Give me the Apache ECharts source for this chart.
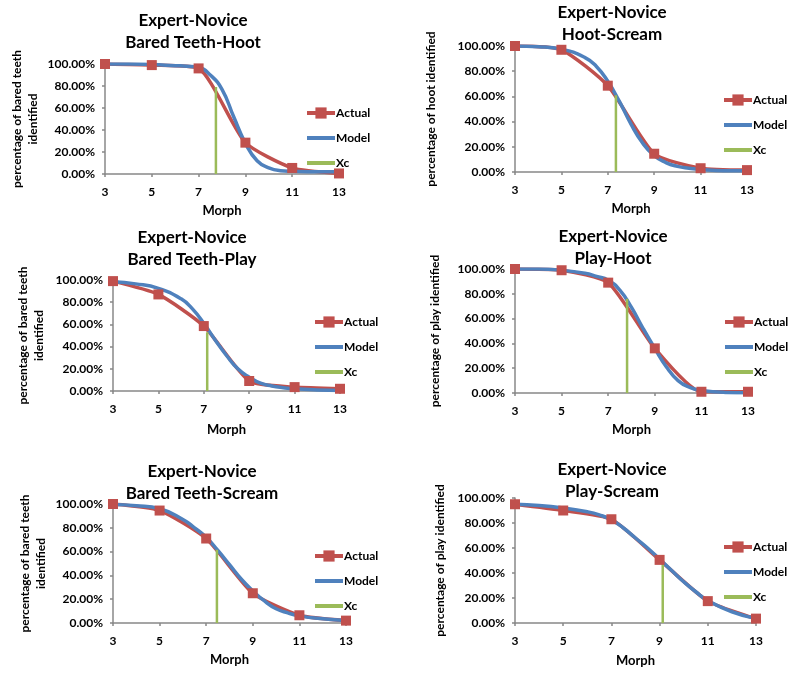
<!DOCTYPE html>
<html>
<head>
<meta charset="utf-8">
<script src="https://cdn.jsdelivr.net/npm/echarts@6/dist/echarts.min.js"></script>
<style>
html, body { margin: 0; padding: 0; background: #fff; }
#main { width: 800px; height: 674px; }
</style>
</head>
<body>
<div id="main"></div>
<script>
// x of the Actual points (morph level)
var morph = [3, 5, 7, 9, 11, 13];
// x of the points
var modelX = [3, 4, 5, 6, 6.5, 7, 7.5, 8, 8.5, 9, 9.5, 10, 10.5, 11, 12, 13];
var xTicks = [3, 5, 7, 9, 11, 13];

var panelTitles = [
	'Expert-Novice\nBared Teeth-Hoot',
	'Expert-Novice\nHoot-Scream',
	'Expert-Novice\nBared Teeth-Play',
	'Expert-Novice\nPlay-Hoot',
	'Expert-Novice\nBared Teeth-Scream',
	'Expert-Novice\nPlay-Scream'
];
var yNames = [
	'percentage of bared teeth\nidentified',
	'percentage of hoot identified',
	'percentage of bared teeth\nidentified',
	'percentage of play identified',
	'percentage of bared teeth\nidentified',
	'percentage of play identified'
];

// Actual (%)
var actualBTH = [100, 99, 96, 28.5, 5.5, 0.5];
var actualHS  = [100, 97, 68.5, 14.5, 3, 1.5];
var actualBTP = [99, 87, 58.5, 9, 3.5, 2];
var actualPH  = [100, 99, 89, 36, 1, 1];
var actualBTS = [100, 94.5, 71, 25, 6.5, 2];
var actualPS  = [95, 90, 83, 50.5, 17.5, 3.5];

// Model (%), at modelX
var modelBTH = [100, 100, 99.5, 98.5, 98, 97, 90, 77, 52, 28, 12, 5.5, 3, 2.5, 2, 2];
var modelHS  = [100, 99.5, 97.5, 91, 84, 72, 56, 38, 23, 13, 7.5, 4.5, 3, 2, 1, 1];
var modelBTP = [98.5, 96.5, 92.5, 83, 74, 61, 46, 32, 20, 12.5, 7, 4.5, 3, 2, 1, 0.5];
var modelPH  = [100, 100, 99, 96.5, 94, 91, 83, 69, 52, 36, 21, 10, 4.5, 2, 0.5, 0.3];
var modelBTS = [99.5, 98.5, 96, 87, 80, 72, 61, 49, 37, 27, 18.5, 12, 8.5, 6, 3.5, 2];
var modelPS  = [95, 94, 92, 89, 86.5, 82.5, 76, 68, 60, 51, 42, 33, 25, 18, 9, 3.5];

// Xc line: position and height (%)
var xcPos = [7.74, 7.35, 7.15, 7.81, 7.46, 9.13];
var xcTop = [79, 61, 53, 76, 61.5, 51.5];

var actualAll = [actualBTH, actualHS, actualBTP, actualPH, actualBTS, actualPS];
var modelAll = [modelBTH, modelHS, modelBTP, modelPH, modelBTS, modelPS];

// layout of each panel
var gridBox = [[105, 64, 234, 110], [515, 46, 232, 126], [113, 280, 227, 111],
	[515, 269, 233, 124], [113, 504, 233, 119], [515, 498, 241, 125]];
var titleAt = [[193, 10], [612, 2], [192, 227], [613, 226], [202, 461], [612, 459]];
var legendAt = [[305, 107], [722, 94], [313, 316], [723, 316], [313, 550], [722, 541]];
var yNameGap = [64, 76, 66, 72, 64, 67];
var xNameGap = [30, 30, 32, 30, 30, 31];

var RED = '#C0504D', BLUE = '#4F81BD', GREEN = '#9BBB59';
var FONT = 'Lato';

initPage();

function initPage(){
	var myChart = echarts.init(document.getElementById('main'));
	myChart.setOption(buildOption());
}

function pairs(xs, ys){
	var out = [];
	for (var i = 0; i < xs.length; i++) out.push([xs[i], ys[i]]);
	return out;
}

function buildOption(){
	var option = {
		animation: false,
		backgroundColor: '#fff',
		title: [], legend: [], grid: [], xAxis: [], yAxis: [], series: []
	};
	for (var i = 0; i < 6; i++) {
		var g = gridBox[i];
		option.grid.push({ left: g[0], top: g[1], width: g[2], height: g[3] });
		option.title.push({
			text: panelTitles[i], left: titleAt[i][0], top: titleAt[i][1],
			textAlign: 'center', padding: 0,
			textStyle: { fontFamily: FONT, fontWeight: 'bold', fontSize: 17, lineHeight: 22, color: '#000' }
		});
		// legend: line only for Model and Xc, line + square for Actual
		option.legend.push({
			orient: 'vertical', left: legendAt[i][0], top: legendAt[i][1], padding: 0,
			itemWidth: 28, itemHeight: 14, itemGap: 13,
			lineStyle: { width: 4 },
			data: [
				{ name: 'Actual' },
				{ name: 'Model', itemStyle: { opacity: 0 } },
				{ name: 'Xc', itemStyle: { opacity: 0 } }
			],
			textStyle: { fontFamily: FONT, fontWeight: 'bold', fontSize: 12, color: '#000', padding: [0, 0, 0, -4] }
		});
		option.xAxis.push({
			type: 'value', gridIndex: i, min: xTicks[0], max: xTicks[xTicks.length - 1],
			name: 'Morph', nameLocation: 'middle', nameGap: xNameGap[i],
			nameTextStyle: { fontFamily: FONT, fontWeight: 'bold', fontSize: 13, color: '#000' },
			axisLine: { lineStyle: { color: '#888', width: 1.5 } },
			axisTick: { show: true, length: 3, customValues: xTicks, lineStyle: { color: '#888', width: 1.5 } },
			axisLabel: { customValues: xTicks, margin: 12, fontFamily: FONT, fontWeight: 'bold', fontSize: 12, color: '#000' },
			splitLine: { show: false }
		});
		option.yAxis.push({
			type: 'value', gridIndex: i, min: 0, max: 100, interval: 20,
			name: yNames[i], nameLocation: 'middle', nameGap: yNameGap[i],
			nameTextStyle: { fontFamily: FONT, fontWeight: 'bold', fontSize: 12, lineHeight: 16, color: '#000' },
			axisLine: { show: true, lineStyle: { color: '#888', width: 1.5 } },
			axisTick: { show: true, length: 3, lineStyle: { color: '#888', width: 1.5 } },
			axisLabel: {
				margin: 10, fontFamily: FONT, fontWeight: 'bold', fontSize: 12, color: '#000',
				formatter: function(v){ return v.toFixed(2) + '%'; }
			},
			splitLine: { show: false }
		});
		option.series.push({
			name: 'Actual', type: 'line', xAxisIndex: i, yAxisIndex: i,
			data: pairs(morph, actualAll[i]), smooth: 0.2,
			symbol: 'rect', symbolSize: 10,
			itemStyle: { color: RED }, lineStyle: { color: RED, width: 3.5 }
		});
		option.series.push({
			name: 'Model', type: 'line', xAxisIndex: i, yAxisIndex: i,
			data: pairs(modelX, modelAll[i]), smooth: 0.5, showSymbol: false, symbol: 'none',
			itemStyle: { color: BLUE }, lineStyle: { color: BLUE, width: 3.5 }
		});
		option.series.push({
			name: 'Xc', type: 'line', xAxisIndex: i, yAxisIndex: i,
			data: [[xcPos[i], 0], [xcPos[i], xcTop[i]]], symbol: 'none',
			itemStyle: { color: GREEN }, lineStyle: { color: GREEN, width: 2.5 }
		});
	}
	return option;
}
</script>
</body>
</html>
